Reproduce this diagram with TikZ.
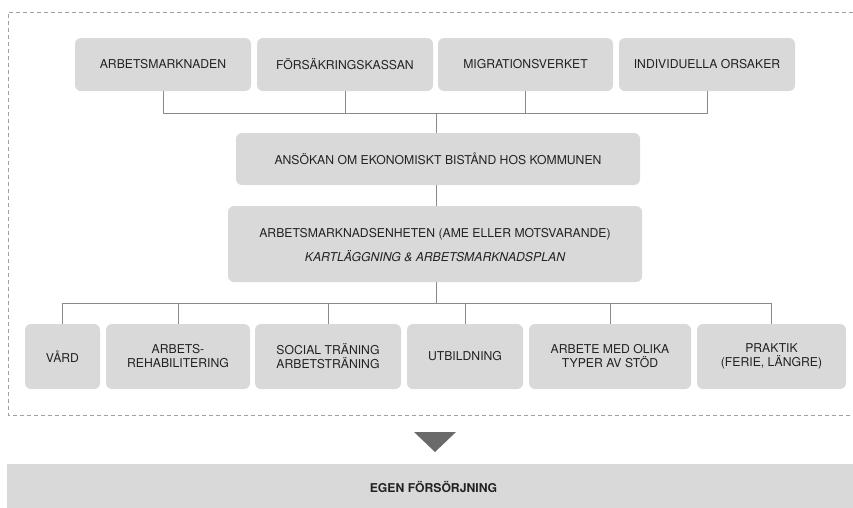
\documentclass[tikz,border=0pt]{standalone}
\usepackage{fontspec}
\setmainfont{TeX Gyre Heros}
\definecolor{boxfill}{HTML}{D9D9D9}
\definecolor{linegray}{HTML}{8A8A8A}
\definecolor{dashgray}{HTML}{A0A0A0}
\definecolor{txt}{HTML}{222222}
\definecolor{tri}{HTML}{6A6A6A}
\tikzset{
  box/.style={fill=boxfill, rounded corners=6pt, inner sep=0pt, outer sep=0pt,
    align=center, text=txt, font=\fontsize{12.2pt}{14pt}\selectfont},
  conn/.style={draw=linegray, line width=0.9pt},
  frame/.style={draw=dashgray, line width=0.9pt, dash pattern=on 4pt off 3pt},
}
\begin{document}
\begin{tikzpicture}[x=1pt,y=-1pt]
\useasboundingbox (0,0) rectangle (853,507);
\clip (0,0) rectangle (853,507);
\fill[white] (0,0) rectangle (853,507);
% dashed frame (right side out of view)
\draw[frame] (860,12) -- (8,12) -- (8,415) -- (860,415);
% top row
\node[box, minimum width=176, minimum height=53] (a1) at (163,64.5) {ARBETSMARKNADEN};
\node[box, minimum width=176, minimum height=53] (a2) at (345,64.5) {FÖRSÄKRINGSKASSAN};
\node[box, minimum width=175, minimum height=53] (a3) at (525.5,64.5) {MIGRATIONSVERKET};
\node[box, minimum width=176, minimum height=53] (a4) at (707,64.5) {INDIVIDUELLA ORSAKER};
% middle
\node[box, minimum width=404, minimum height=52] (ans) at (438,159) {ANSÖKAN OM EKONOMISKT BISTÅND HOS KOMMUNEN};
\node[box, minimum width=414, minimum height=76] (ame) at (435,244) {};
\node[text=txt, font=\fontsize{12.2pt}{14pt}\selectfont, inner sep=0pt, anchor=base] (ame1) at (435,237.5) {ARBETSMARKNADSENHETEN (AME ELLER MOTSVARANDE)};
\node[text=txt, font=\fontsize{12.2pt}{14pt}\selectfont\itshape, inner sep=0pt, anchor=base] (ame2) at (435,261.5) {KARTLÄGGNING \& ARBETSMARKNADSPLAN};
% bottom row
\node[box, minimum width=75, minimum height=65] (b1) at (62.5,356.5) {VÅRD};
\node[box, minimum width=144, minimum height=65] (b2) at (178,356.5) {ARBETS-\\REHABILITERING};
\node[box, minimum width=146, minimum height=65] (b3) at (328,356.5) {SOCIAL TRÄNING\\ARBETSTRÄNING};
\node[box, minimum width=116, minimum height=65] (b4) at (465,356.5) {UTBILDNING};
\node[box, minimum width=162, minimum height=65] (b5) at (610,356.5) {ARBETE MED OLIKA\\TYPER AV STÖD};
\node[box, minimum width=149, minimum height=65] (b6) at (771.5,356.5) {PRAKTIK\\(FERIE, LÄNGRE)};
% connectors top
\coordinate (j1) at (436,113);
\draw[conn] (a1.south) |- (j1);
\draw[conn] (a2.south) |- (j1);
\draw[conn] (a3.south) |- (j1);
\draw[conn] (a4.south) |- (j1);
\draw[conn] (j1) -- (j1 |- ans.north);
\draw[conn] (j1 |- ans.south) -- (j1 |- ame.north);
% connectors bottom
\coordinate (j2) at (436,303);
\draw[conn] (j1 |- ame.south) -- (j2);
\draw[conn] (b1.north) |- (j2);
\draw[conn] (b2.north) |- (j2);
\draw[conn] (b3.north) |- (j2);
\draw[conn] (b4.north) |- (j2);
\draw[conn] (b5.north) |- (j2);
\draw[conn] (b6.north) |- (j2);
% arrow triangle
\fill[tri] (414,432) -- (456,432) -- (435,452) -- cycle;
% bottom bar
\node[fill=boxfill, inner sep=0pt, minimum width=853, minimum height=46, text=txt,
  font=\fontsize{12.2pt}{14pt}\selectfont\bfseries] (egen) at (433.5,487) {EGEN FÖRSÖRJNING};
\end{tikzpicture}
\end{document}
